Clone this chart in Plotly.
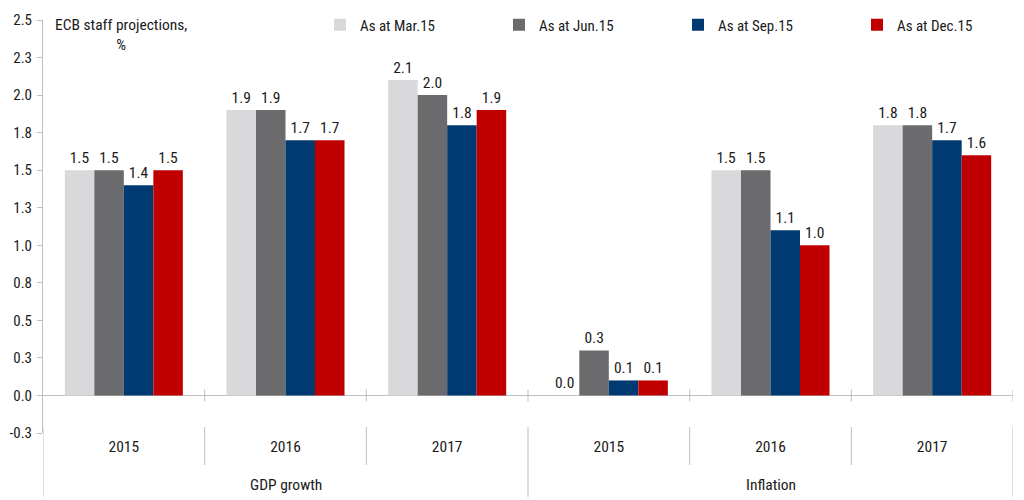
import plotly.graph_objects as go

groups = ["GDP growth", "Inflation"]
years = ["2015", "2016", "2017", "2015", "2016", "2017"]
series_names = ["As at Mar.15", "As at Jun.15", "As at Sep.15", "As at Dec.15"]
mar15 = [1.5, 1.9, 2.1, 0.0, 1.5, 1.8]
jun15 = [1.5, 1.9, 2.0, 0.3, 1.5, 1.8]
sep15 = [1.4, 1.7, 1.8, 0.1, 1.1, 1.7]
dec15 = [1.5, 1.7, 1.9, 0.1, 1.0, 1.6]
y_tickvals = [-0.25, 0.0, 0.25, 0.5, 0.75, 1.0, 1.25, 1.5, 1.75, 2.0, 2.25, 2.5]
y_ticktext = ["-0.3", "0.0", "0.3", "0.5", "0.8", "1.0", "1.3", "1.5", "1.8", "2.0", "2.3", "2.5"]

colors = ["#d9d9db", "#6b6b6d", "#003a70", "#c00000"]
FONT = "Roboto Condensed, Liberation Sans Narrow, Roboto, sans-serif"
AXIS_COLOR = "#bfbfbf"
FS = 15.5
TXT = "#1a1a1a"

xpos = list(range(len(years)))
fig = go.Figure()
for name, vals, col in zip(series_names, [mar15, jun15, sep15, dec15], colors):
    fig.add_trace(go.Bar(
        x=xpos, y=vals, name=name, marker=dict(color=col, line=dict(width=0)),
        text=[f"{v:.1f}" for v in vals], textposition="outside", cliponaxis=False,
        textfont=dict(family=FONT, size=FS, color=TXT),
    ))

shapes = []
for b in [0.5, 1.5, 2.5, 3.5, 4.5, 5.5]:
    shapes.append(dict(type="line", xref="x", yref="y", x0=b, x1=b, y0=-0.04, y1=0.04,
                       line=dict(color=AXIS_COLOR, width=1)))
for b in [0.5, 1.5, 3.5, 4.5]:
    shapes.append(dict(type="line", xref="x", yref="paper", x0=b, x1=b, y0=0.0145, y1=-0.0775,
                       line=dict(color=AXIS_COLOR, width=1)))
for b in [-0.5, 2.5, 5.5]:
    shapes.append(dict(type="line", xref="x", yref="paper", x0=b, x1=b, y0=0.0145, y1=-0.155,
                       line=dict(color=AXIS_COLOR, width=1)))

annotations = [
    dict(text="ECB staff projections,<br>%", xref="paper", yref="paper",
         x=(121 - 43) / 970, y=(433 - 35) / 413, xanchor="center", yanchor="middle",
         showarrow=False, align="center", font=dict(family=FONT, size=FS, color=TXT)),
]
for gi, g in enumerate(groups):
    annotations.append(dict(text=g, xref="x", yref="paper", x=1 + 3 * gi, y=(433 - 485) / 413,
                            xanchor="center", yanchor="middle", showarrow=False,
                            font=dict(family=FONT, size=FS, color=TXT)))

fig.update_layout(
    width=1024, height=500,
    margin=dict(l=35, r=19, t=12, b=75, autoexpand=False),
    plot_bgcolor="white", paper_bgcolor="white",
    barmode="group", bargap=0.27, bargroupgap=0,
    font=dict(family=FONT, size=FS, color=TXT),
    showlegend=True,
    legend=dict(orientation="h", x=(320 - 43) / 970, xanchor="left", y=(433 - 25) / 413,
                yanchor="middle", entrywidth=134, entrywidthmode="pixels",
                bgcolor="rgba(0,0,0,0)", font=dict(family=FONT, size=15, color=TXT),
                itemclick=False, itemwidth=30),
    xaxis=dict(range=[-0.5, 5.5], tickvals=xpos, ticktext=years, showline=False,
               showgrid=False, zeroline=False, ticks="", ticklabelstandoff=2,
               tickfont=dict(family=FONT, size=FS, color=TXT)),
    yaxis=dict(range=[-0.25, 2.5], tickvals=y_tickvals, ticktext=y_ticktext,
               showline=True, linecolor=AXIS_COLOR, linewidth=1, ticks="outside",
               ticklen=5, tickcolor=AXIS_COLOR, showgrid=False, zeroline=True,
               zerolinecolor=AXIS_COLOR, zerolinewidth=1, ticklabelstandoff=2,
               tickfont=dict(family=FONT, size=15, color=TXT)),
    shapes=shapes, annotations=annotations,
)
fig.write_html("out.html")
